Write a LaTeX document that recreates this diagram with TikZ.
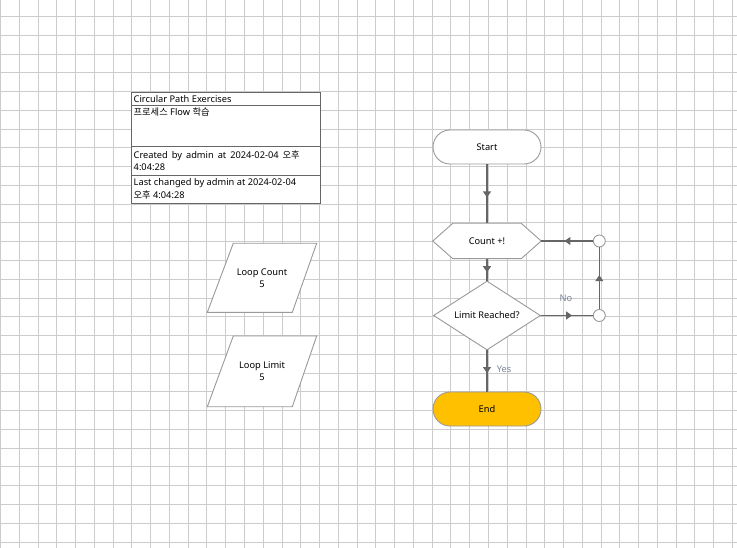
\documentclass[tikz,border=0pt]{standalone}
\usepackage{fontspec}
\setmainfont{Noto Sans}
\newfontfamily\kr{Noto Sans CJK KR}
\usetikzlibrary{arrows.meta,decorations.markings,shapes.geometric}
\definecolor{gridc}{HTML}{CCCCCC}
\definecolor{linec}{HTML}{666666}
\definecolor{shapec}{HTML}{999999}
\definecolor{endc}{HTML}{FFC000}
\definecolor{lblc}{HTML}{7A8499}
\tikzset{
  midarrow/.style={draw=linec, line width=1.2bp, postaction={decorate},
    decoration={markings, mark=at position #1 with {\arrow[linec]{Triangle[length=6bp,width=8bp]}}}},
  midarrow/.default=0.56,
  terminal/.style={draw=shapec, line width=0.9bp, rounded corners=17bp, minimum width=108bp, minimum height=34bp, inner sep=0pt, font=\fontsize{9.3}{11}\selectfont},
  shapeline/.style={draw=shapec, line width=0.9bp},
  txt/.style={font=\fontsize{9.3}{11}\selectfont, inner sep=0pt},
  boxtxt/.style={font=\fontsize{9.3}{11}\selectfont, inner sep=0pt, anchor=west},
  junction/.style={circle, draw=shapec, fill=white, line width=0.9bp, minimum size=12bp, inner sep=0pt},
  lbl/.style={font=\fontsize{9.3}{11}\selectfont, text=lblc, inner sep=0pt}
}
\begin{document}
\begin{tikzpicture}[x=1bp,y=-1bp]
\useasboundingbox (0,0) rectangle (737,548);
\fill[white] (0,0) rectangle (737,548);
% grid
\foreach \k in {0,...,39} { \pgfmathsetmacro{\gx}{round(\k*18.77)+0.5} \draw[gridc, line width=1bp] (\gx,0) -- (\gx,548); }
\foreach \k in {0,...,28} { \pgfmathsetmacro{\gy}{round(16+\k*18.77)+0.5} \draw[gridc, line width=1bp] (0,\gy) -- (737,\gy); }

% title box
\draw[linec, line width=0.9bp, fill=white] (131.5,92) rectangle (320,203.5);
\draw[linec, line width=0.9bp] (131.5,105) -- (320,105);
\draw[linec, line width=0.9bp] (131.5,146.5) -- (320,146.5);
\draw[linec, line width=0.9bp] (131.5,175.5) -- (320,175.5);
\node[boxtxt] (t1) at (133.5,98.7) {Circular Path Exercises};
\node[boxtxt] (t2) at (133.5,112) {{\kr 프로세스} Flow {\kr 학습}};
\node[boxtxt] (t3) at (133.5,155.5) {\makebox[166bp][s]{Created by admin at 2024-02-04 {\kr 오후}}};
\node[boxtxt] (t4) at (133.5,167.5) {4:04:28};
\node[boxtxt] (t5) at (133.5,183.5) {Last changed by admin at 2024-02-04};
\node[boxtxt] (t6) at (133.5,195.5) {{\kr 오후} 4:04:28};

% parallelograms
\draw[shapeline, fill=white] (233.3,243.3) -- (316.7,243.3) -- (292.3,312.3) -- (207.3,312.3) -- cycle;
\node[txt, align=center] (lc) at (262,278) {Loop Count\\[1pt]5};
\draw[shapeline, fill=white] (233.3,336) -- (316.7,336) -- (292.3,406.7) -- (207.3,406.7) -- cycle;
\node[txt, align=center] (ll) at (262,371.5) {Loop Limit\\[1pt]5};

% flow nodes
\node[terminal, fill=white] (start) at (487,147) {Start};
\node[inner sep=0pt, minimum width=108bp, minimum height=35bp] (count) at (487,241) {};
\draw[shapeline, fill=white] (count.west) -- ([xshift=20bp]count.north west) -- ([xshift=-20bp]count.north east) -- (count.east) -- ([xshift=-20bp]count.south east) -- ([xshift=20bp]count.south west) -- cycle;
\node[txt] at (count) {Count +!};
\node[diamond, shapeline, fill=white, minimum width=107bp, minimum height=69bp, inner sep=0pt, aspect=1.55, txt] (limit) at (487,315.5) {Limit Reached?};
\node[terminal, fill=endc] (end) at (487,409) {End};
\node[junction] (j1) at (599.3,315.5) {};
\node[junction] (j2) at (599.3,241) {};

% connectors
\draw[midarrow] (start.south) -- (count.north);
\draw[midarrow=0.62] (count.south) -- (limit.north);
\draw[midarrow=0.55] (limit.south) -- (end.north);
\draw[midarrow=0.6] (limit.east) -- (j1.west);
\draw[midarrow=0.55] (j1.north) -- (j2.south);
\draw[midarrow=0.55] (j2.west) -- (count.east);

\node[lbl] (no) at (566,298.5) {No};
\node[lbl] (yes) at (504,369.5) {Yes};
\end{tikzpicture}
\end{document}
